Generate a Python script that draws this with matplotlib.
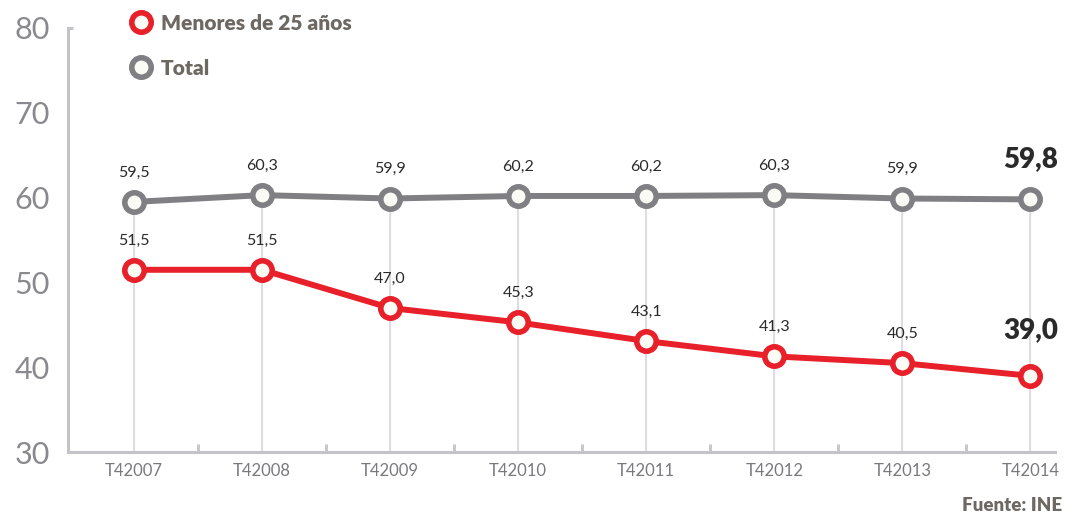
import matplotlib
matplotlib.use("Agg")
import matplotlib.pyplot as plt
from matplotlib.lines import Line2D
import numpy as np

categories = ["T42007", "T42008", "T42009", "T42010", "T42011", "T42012", "T42013", "T42014"]
menores = [51.5, 51.5, 47.0, 45.3, 43.1, 41.3, 40.5, 39.0]
total = [59.5, 60.3, 59.9, 60.2, 60.2, 60.3, 59.9, 59.8]
menores_labels = ["51,5", "51,5", "47,0", "45,3", "43,1", "41,3", "40,5", "39,0"]
total_labels = ["59,5", "60,3", "59,9", "60,2", "60,2", "60,3", "59,9", "59,8"]
yticks = [30, 40, 50, 60, 70, 80]

RED = "#e8202a"
GRAY = "#808084"
FILL = "#fbfbf6"
TXT = "#2a2a2a"
LEG = "#6e6863"
AX = "#c4c4c8"

plt.rcParams['font.family'] = ['Lato', 'DejaVu Sans']

fig = plt.figure(figsize=(10.78, 5.18), dpi=100)
ax = fig.add_axes([0.063, 0.127, 0.916, 0.819])
x = np.arange(len(categories))

ax.set_xlim(-0.516, 7.195)
ax.set_ylim(30, 80)

# vertical guide lines
ax.vlines(x, 30, total, colors="#dedede", linewidth=1.5, zorder=1)

ax.plot(x, total, color=GRAY, linewidth=4.3, marker="o", markersize=14,
        markerfacecolor=FILL, markeredgecolor=GRAY, markeredgewidth=4, zorder=3)
ax.plot(x, menores, color=RED, linewidth=4.3, marker="o", markersize=14,
        markerfacecolor=FILL, markeredgecolor=RED, markeredgewidth=4, zorder=4)

n = len(categories)
for i in range(n):
    if i == n - 1:
        ax.annotate(total_labels[i], (x[i], total[i]), xytext=(0, 29), textcoords="offset points",
                    ha="center", va="center", fontsize=20, fontweight="heavy", color=TXT)
        ax.annotate(menores_labels[i], (x[i], menores[i]), xytext=(0, 33), textcoords="offset points",
                    ha="center", va="center", fontsize=20, fontweight="heavy", color=TXT)
    else:
        ax.annotate(total_labels[i], (x[i], total[i]), xytext=(0, 21), textcoords="offset points",
                    ha="center", va="center", fontsize=11.5, color=TXT)
        ax.annotate(menores_labels[i], (x[i], menores[i]), xytext=(0, 21), textcoords="offset points",
                    ha="center", va="center", fontsize=11.5, color=TXT)

# spines
for s in ["top", "right"]:
    ax.spines[s].set_visible(False)
for s in ["left", "bottom"]:
    ax.spines[s].set_color(AX)
    ax.spines[s].set_linewidth(2.2)
ax.spines["left"].set_bounds(30, 80)

ax.set_xticks(x)
ax.set_xticklabels(categories, fontsize=12, color="#7a7a7e")
ax.set_xticks(x[:-1] + 0.5, minor=True)
ax.tick_params(axis="x", which="major", length=0, pad=8)
ax.tick_params(axis="x", which="minor", direction="in", length=6, width=2, color=AX)

ax.set_yticks(yticks)
ax.set_yticklabels([str(v) for v in yticks], fontsize=22, color="#8a8a8e")
ax.tick_params(axis="y", length=0, pad=13)
# top cap on the left spine
ax.plot([-0.516, -0.48], [80, 80], color=AX, linewidth=2.2, clip_on=False, solid_capstyle="butt")

# legend
handles = [
    Line2D([], [], linestyle="none", marker="o", markersize=14, markerfacecolor=FILL,
           markeredgecolor=RED, markeredgewidth=4),
    Line2D([], [], linestyle="none", marker="o", markersize=14, markerfacecolor=FILL,
           markeredgecolor=GRAY, markeredgewidth=4),
]
leg = fig.legend(handles, ["Menores de 25 años", "Total"], loc="upper left",
                 bbox_to_anchor=(0.104, 1.01), frameon=False, handlelength=1.0,
                 handletextpad=0.45, labelspacing=1.25, prop={"size": 15, "weight": "heavy"})
for t in leg.get_texts():
    t.set_color(LEG)

fig.text(0.985, 0.025, "Fuente: INE", ha="right", va="center", fontsize=13.5,
         fontweight="heavy", color=LEG)

fig.savefig("out.png", dpi=100, facecolor="white")
